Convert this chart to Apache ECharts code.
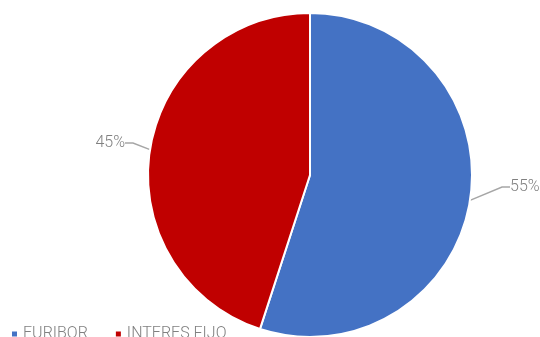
<!DOCTYPE html>
<html>
<head>
<meta charset="utf-8">
<script src="https://cdn.jsdelivr.net/npm/echarts@6/dist/echarts.min.js"></script>
<style>
  html, body { margin: 0; padding: 0; background: #ffffff; }
  #chart { width: 540px; height: 337px; }
</style>
</head>
<body>
<div id="chart"></div>
<script>
// Share of mortgage types
const categories = ['EURIBOR', 'INTERES FIJO'];
const shares = [55, 45];
const sliceColors = ['#4472C4', '#C00000'];

const chart = echarts.init(document.getElementById('chart'));

// Where each percentage label sits, keyed by slice index
const labelSpots = [
  { x: 510, y: 187, align: 'left' },
  { x: 125, y: 143, align: 'right' }
];

chart.setOption({
  animation: false,
  color: sliceColors,
  textStyle: { fontFamily: 'Roboto' },
  legend: {
    data: categories,
    left: 5,
    top: 321,
    icon: 'rect',
    itemWidth: 7,
    itemHeight: 7,
    itemGap: 26,
    textStyle: { color: '#808080', fontSize: 16, fontWeight: 300, fontFamily: 'Roboto', padding: [0, 0, 0, 0] }
  },
  series: [{
    type: 'pie',
    center: [310, 175],
    radius: 162,
    startAngle: 90,
    clockwise: true,
    itemStyle: { borderColor: '#ffffff', borderWidth: 2 },
    label: {
      formatter: '{d}%',
      color: '#808080',
      fontSize: 16,
      fontWeight: 300,
      fontFamily: 'Roboto',
      overflow: 'none'
    },
    labelLine: {
      show: true,
      length: 20,
      length2: 8,
      lineStyle: { color: '#a6a6a6', width: 1.5 }
    },
    labelLayout: function (params) {
      const s = labelSpots[params.dataIndex];
      return { x: s.x, y: s.y, align: s.align, verticalAlign: 'middle' };
    },
    data: categories.map((name, i) => ({ name: name, value: shares[i] }))
  }]
});
</script>
</body>
</html>
